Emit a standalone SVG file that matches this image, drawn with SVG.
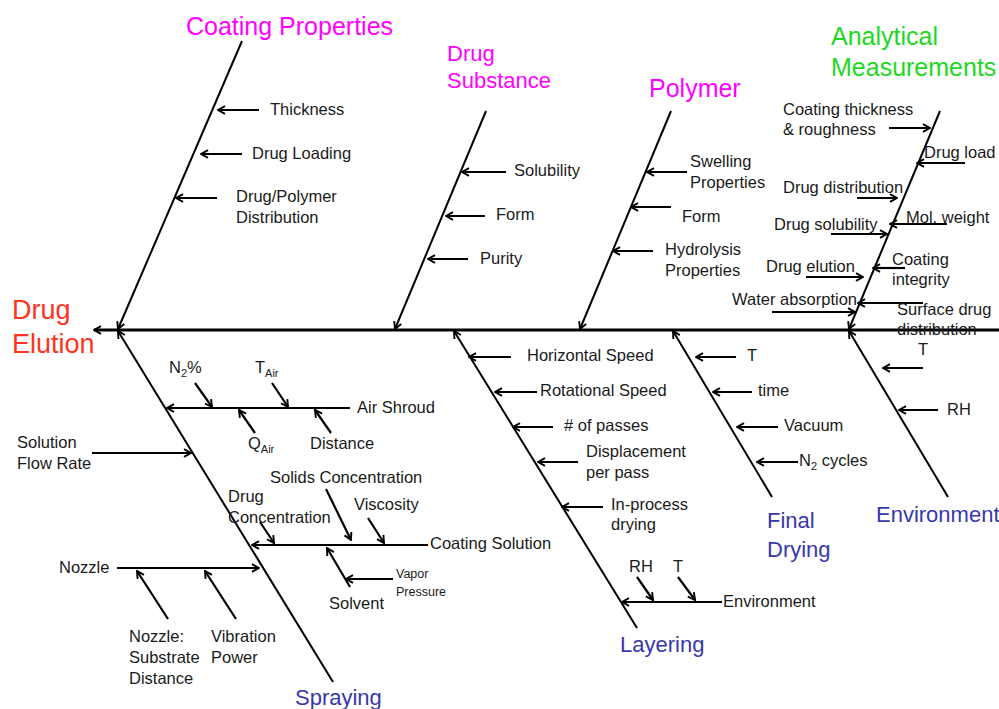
<svg xmlns="http://www.w3.org/2000/svg" width="999" height="709" viewBox="0 0 999 709">
<defs>
<style>
.bone{stroke:#000;stroke-width:2;fill:none}
.spine{stroke:#000;stroke-width:3;fill:none}
.arr{stroke:#000;stroke-width:2.2;fill:none}
text{font-family:"Liberation Sans",Arial,sans-serif}
.lbl{font-size:16.5px;fill:#1a1a1a}
.sm{font-size:12.5px;fill:#1a1a1a}
.sub{font-size:11px}
.mag{fill:#ff00ff}
.grn{fill:#1fd81f;font-size:25px}
.blu{fill:#3838aa;font-size:22px}
.red{fill:#ff3322;font-size:27px}
</style>
<marker id="ah" viewBox="0 0 10 10" refX="9" refY="5" markerWidth="10" markerHeight="10" orient="auto" markerUnits="userSpaceOnUse">
<path d="M2,1.2 L9,5 L2,8.8" fill="none" stroke="#000" stroke-width="1.9"/>
</marker>
</defs>
<rect width="999" height="709" fill="#fff"/>

<g id="connectors">
<path class="spine" d="M999,330 L94,330" marker-end="url(#ah)"/>
<path class="bone" d="M242,41 L118,329" marker-end="url(#ah)"/>
<path class="bone" d="M486,111 L395,329" marker-end="url(#ah)"/>
<path class="bone" d="M671,111 L580,329" marker-end="url(#ah)"/>
<path class="bone" d="M940,111 L849,329" marker-end="url(#ah)"/>
<path class="bone" d="M333,682 L118,331" marker-end="url(#ah)"/>
<path class="bone" d="M637,628 L454,331" marker-end="url(#ah)"/>
<path class="bone" d="M772,497 L673,331" marker-end="url(#ah)"/>
<path class="bone" d="M948,497 L849,331" marker-end="url(#ah)"/>

<path class="arr" d="M259,110 L218,110" marker-end="url(#ah)"/>
<path class="arr" d="M242,154 L201,154" marker-end="url(#ah)"/>
<path class="arr" d="M217,198 L176,198" marker-end="url(#ah)"/>

<path class="arr" d="M506,172 L462,172" marker-end="url(#ah)"/>
<path class="arr" d="M485,216 L446,216" marker-end="url(#ah)"/>
<path class="arr" d="M468,259 L428,259" marker-end="url(#ah)"/>

<path class="arr" d="M687,172 L647,172" marker-end="url(#ah)"/>
<path class="arr" d="M671,207 L631,207" marker-end="url(#ah)"/>
<path class="arr" d="M653,251 L613,251" marker-end="url(#ah)"/>

<path class="arr" d="M889,128 L930,128" marker-end="url(#ah)"/>
<path class="arr" d="M965,163 L917,163" marker-end="url(#ah)"/>
<path class="arr" d="M857,198 L897,198" marker-end="url(#ah)"/>
<path class="arr" d="M947,224 L890,224" marker-end="url(#ah)"/>
<path class="arr" d="M831,234 L887,234" marker-end="url(#ah)"/>
<path class="arr" d="M905,268 L873,268" marker-end="url(#ah)"/>
<path class="arr" d="M806,277 L863,277" marker-end="url(#ah)"/>
<path class="arr" d="M772,312 L855,312" marker-end="url(#ah)"/>
<path class="arr" d="M923,303 L858,303" marker-end="url(#ah)"/>

<path class="arr" d="M350,408 L167,408" marker-end="url(#ah)"/>
<path class="arr" d="M195,383 L212,407" marker-end="url(#ah)"/>
<path class="arr" d="M272,383 L288,407" marker-end="url(#ah)"/>
<path class="arr" d="M255,433 L239,410" marker-end="url(#ah)"/>
<path class="arr" d="M331,433 L315,410" marker-end="url(#ah)"/>
<path class="arr" d="M92,453 L191,453" marker-end="url(#ah)"/>
<path class="arr" d="M428,545 L252,545" marker-end="url(#ah)"/>
<path class="arr" d="M260,522 L274,543" marker-end="url(#ah)"/>
<path class="arr" d="M326,489 L351,540" marker-end="url(#ah)"/>
<path class="arr" d="M368,518 L384,543" marker-end="url(#ah)"/>
<path class="arr" d="M350,587 L327,548" marker-end="url(#ah)"/>
<path class="arr" d="M393,579 L346,579" marker-end="url(#ah)"/>
<path class="arr" d="M117,568 L259,568" marker-end="url(#ah)"/>
<path class="arr" d="M168,619 L137,571" marker-end="url(#ah)"/>
<path class="arr" d="M236,619 L205,571" marker-end="url(#ah)"/>

<path class="arr" d="M511,357 L469,357" marker-end="url(#ah)"/>
<path class="arr" d="M537,392 L495,392" marker-end="url(#ah)"/>
<path class="arr" d="M553,427 L513,427" marker-end="url(#ah)"/>
<path class="arr" d="M578,462 L538,462" marker-end="url(#ah)"/>
<path class="arr" d="M603,507 L562,507" marker-end="url(#ah)"/>
<path class="arr" d="M722,602 L622,602" marker-end="url(#ah)"/>
<path class="arr" d="M637,577 L653,600" marker-end="url(#ah)"/>
<path class="arr" d="M678,577 L695,600" marker-end="url(#ah)"/>

<path class="arr" d="M736,357 L696,357" marker-end="url(#ah)"/>
<path class="arr" d="M752,392 L713,392" marker-end="url(#ah)"/>
<path class="arr" d="M778,427 L737,427" marker-end="url(#ah)"/>
<path class="arr" d="M798,462 L757,462" marker-end="url(#ah)"/>

<path class="arr" d="M923,368 L883,368" marker-end="url(#ah)"/>
<path class="arr" d="M938,410 L899,410" marker-end="url(#ah)"/>
</g>

<g id="effect">
<text class="red" x="12" y="319">Drug</text>
<text class="red" x="12" y="353">Elution</text>
</g>

<g id="coating-properties">
<text class="mag" x="186" y="35" font-size="25">Coating Properties</text>
<text class="lbl" x="270" y="115">Thickness</text>
<text class="lbl" x="252" y="159">Drug Loading</text>
<text class="lbl" x="236" y="202">Drug/Polymer</text>
<text class="lbl" x="236" y="223">Distribution</text>
</g>

<g id="drug-substance">
<text class="mag" x="447" y="61" font-size="22">Drug</text>
<text class="mag" x="447" y="88" font-size="22">Substance</text>
<text class="lbl" x="514" y="176">Solubility</text>
<text class="lbl" x="496" y="220">Form</text>
<text class="lbl" x="480" y="264">Purity</text>
</g>

<g id="polymer">
<text class="mag" x="649" y="97" font-size="25">Polymer</text>
<text class="lbl" x="690" y="167">Swelling</text>
<text class="lbl" x="690" y="188">Properties</text>
<text class="lbl" x="682" y="222">Form</text>
<text class="lbl" x="665" y="255">Hydrolysis</text>
<text class="lbl" x="665" y="276">Properties</text>
</g>

<g id="analytical-measurements">
<text class="grn" x="831" y="45">Analytical</text>
<text class="grn" x="831" y="76">Measurements</text>
<text class="lbl" x="783" y="115">Coating thickness</text>
<text class="lbl" x="783" y="135">&amp; roughness</text>
<text class="lbl" x="924" y="158">Drug load</text>
<text class="lbl" x="783" y="193">Drug distribution</text>
<text class="lbl" x="906" y="223">Mol. weight</text>
<text class="lbl" x="774" y="230">Drug solubility</text>
<text class="lbl" x="892" y="265">Coating</text>
<text class="lbl" x="892" y="285">integrity</text>
<text class="lbl" x="766" y="272">Drug elution</text>
<text class="lbl" x="732" y="305">Water absorption</text>
<text class="lbl" x="897" y="315">Surface drug</text>
<text class="lbl" x="897" y="335">distribution</text>
</g>

<g id="spraying">
<text class="blu" x="295" y="705">Spraying</text>
<text class="lbl" x="357" y="413">Air Shroud</text>
<text class="lbl" x="169" y="373">N<tspan class="sub" dy="4">2</tspan><tspan dy="-4">%</tspan></text>
<text class="lbl" x="255" y="373">T<tspan class="sub" dy="4">Air</tspan></text>
<text class="lbl" x="248" y="449">Q<tspan class="sub" dy="4">Air</tspan></text>
<text class="lbl" x="310" y="449">Distance</text>
<text class="lbl" x="17" y="448">Solution</text>
<text class="lbl" x="17" y="469">Flow Rate</text>
<text class="lbl" x="430" y="549">Coating Solution</text>
<text class="lbl" x="228" y="502">Drug</text>
<text class="lbl" x="228" y="523">Concentration</text>
<text class="lbl" x="270" y="483">Solids Concentration</text>
<text class="lbl" x="354" y="510">Viscosity</text>
<text class="lbl" x="329" y="609">Solvent</text>
<text class="sm" x="396" y="578">Vapor</text>
<text class="sm" x="396" y="596">Pressure</text>
<text class="lbl" x="59" y="573">Nozzle</text>
<text class="lbl" x="129" y="642">Nozzle:</text>
<text class="lbl" x="129" y="663">Substrate</text>
<text class="lbl" x="129" y="684">Distance</text>
<text class="lbl" x="211" y="642">Vibration</text>
<text class="lbl" x="211" y="663">Power</text>
</g>

<g id="layering">
<text class="blu" x="620" y="652">Layering</text>
<text class="lbl" x="527" y="361">Horizontal Speed</text>
<text class="lbl" x="540" y="396">Rotational Speed</text>
<text class="lbl" x="564" y="431"># of passes</text>
<text class="lbl" x="586" y="457">Displacement</text>
<text class="lbl" x="586" y="478">per pass</text>
<text class="lbl" x="611" y="510">In-process</text>
<text class="lbl" x="611" y="530">drying</text>
<text class="lbl" x="723" y="607">Environment</text>
<text class="lbl" x="629" y="572">RH</text>
<text class="lbl" x="673" y="572">T</text>
</g>

<g id="final-drying">
<text class="blu" x="767" y="528">Final</text>
<text class="blu" x="767" y="557">Drying</text>
<text class="lbl" x="747" y="361">T</text>
<text class="lbl" x="758" y="396">time</text>
<text class="lbl" x="784" y="431">Vacuum</text>
<text class="lbl" x="799" y="466">N<tspan class="sub" dy="4">2</tspan><tspan dy="-4"> cycles</tspan></text>
</g>

<g id="environment">
<text class="blu" x="876" y="522">Environment</text>
<text class="lbl" x="918" y="355">T</text>
<text class="lbl" x="947" y="415">RH</text>
</g>
</svg>
